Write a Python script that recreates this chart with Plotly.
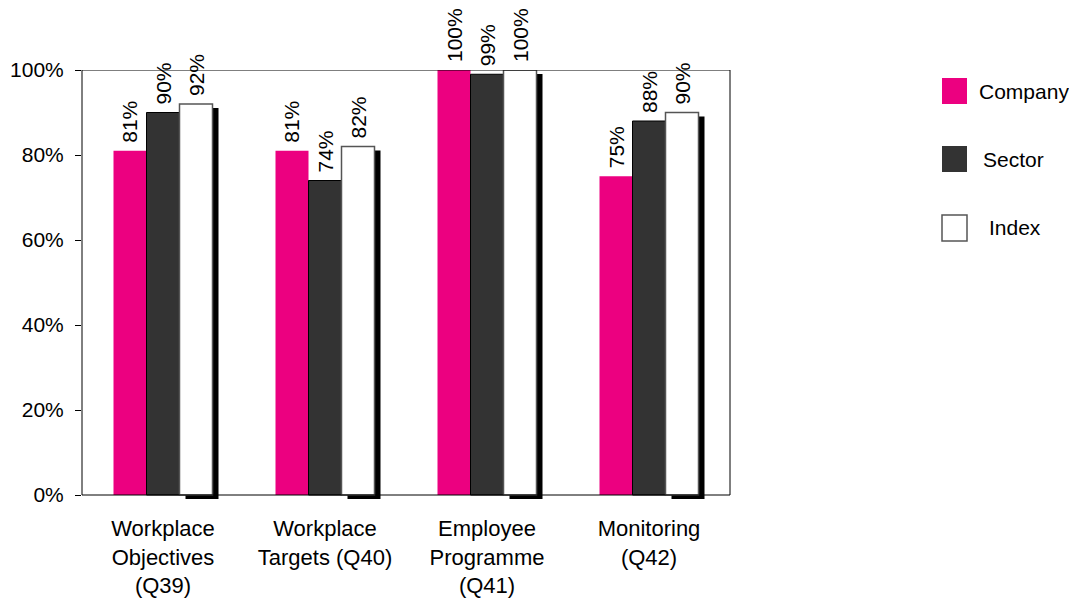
import plotly.graph_objects as go

# Survey scores per question, in percent
categories = [
    "Workplace<br>Objectives<br>(Q39)",
    "Workplace<br>Targets (Q40)",
    "Employee<br>Programme<br>(Q41)",
    "Monitoring<br>(Q42)",
]
company = [81, 81, 100, 75]
sector = [90, 74, 99, 88]
index_scores = [92, 82, 100, 90]
series_names = ["Company", "Sector", "Index"]
y_ticks = [0, 20, 40, 60, 80, 100]

PINK = "#EC0080"
DARK = "#333333"
FONT = "Liberation Sans, Arial, sans-serif"
FS = 21

W, H = 1069, 599
L, R, T, B = 82, 730, 70, 499          # plot area in pixels
ZERO_PX = 495                            # pixel row of 0%
px_per_unit = (ZERO_PX - T) / 100.0
y_min = -(B - ZERO_PX) / px_per_unit     # leaves room for the shadow under the axis

cat_px = (R - L) / len(categories)
BAR_PX = 33
bw = BAR_PX / cat_px                     # bar width in category units
shadow_dx = 6 / cat_px
shadow_dy = 4 / px_per_unit

fig = go.Figure()

# drop shadow behind the Index bars
fig.add_trace(go.Bar(
    x=categories, y=index_scores, base=-shadow_dy,
    width=bw, offset=bw / 2 + shadow_dx,
    marker=dict(color="#000000", line=dict(width=0)),
    hoverinfo="skip", showlegend=False, cliponaxis=False,
))
series = [
    (series_names[0], company, -1.5, dict(color=PINK, line=dict(width=0))),
    (series_names[1], sector, -0.5, dict(color=DARK, line=dict(color="#000000", width=1))),
    (series_names[2], index_scores, 0.5,
     dict(color="#FFFFFF", line=dict(color="#555555", width=1.5))),
]

annotations = []
for name, vals, off, marker in series:
    fig.add_trace(go.Bar(
        x=categories, y=vals, name=name,
        width=bw, offset=off * bw, marker=marker, cliponaxis=False,
    ))
    # rotated value labels sitting just above each bar
    for cat, v in zip(categories, vals):
        annotations.append(dict(
            x=cat, y=v, xref="x", yref="y",
            text=f"{v}%", textangle=-90, showarrow=False,
            xanchor="center", yanchor="bottom",
            xshift=(off + 0.5) * BAR_PX, yshift=6,
            font=dict(family=FONT, size=FS, color="#000000"),
        ))

shapes = [
    # frame around the plot from 0% to 100%
    dict(type="rect", xref="paper", yref="y", x0=0, x1=1, y0=0, y1=100,
         line=dict(color="#000000", width=1), fillcolor="rgba(0,0,0,0)", layer="above"),
]

# legend drawn as swatches with labels
legend_rows = [
    (PINK, PINK, 0, 91, 977),
    (DARK, DARK, 0, 159, 981),
    ("#FFFFFF", "#555555", 1.5, 228, 987),
]
for name, (fill, edge, lw, cy, tx) in zip(series_names, legend_rows):
    shapes.append(dict(
        type="rect", xref="paper", yref="paper",
        x0=(942 - L) / (R - L), x1=(967 - L) / (R - L),
        y0=(B - (cy + 13)) / (B - T), y1=(B - (cy - 13)) / (B - T),
        fillcolor=fill, line=dict(color=edge, width=lw), layer="above",
    ))
    annotations.append(dict(
        text=name, xref="paper", yref="paper",
        x=(tx - L) / (R - L), y=(B - cy) / (B - T),
        xanchor="left", yanchor="middle", showarrow=False,
        font=dict(family=FONT, size=FS, color="#000000"),
    ))

fig.update_layout(
    width=W, height=H,
    margin=dict(l=L, r=W - R, t=T, b=H - B, pad=0, autoexpand=False),
    paper_bgcolor="#FFFFFF", plot_bgcolor="#FFFFFF",
    barmode="overlay",
    showlegend=False,
    font=dict(family=FONT, size=FS, color="#000000"),
    shapes=shapes,
    annotations=annotations,
    xaxis=dict(
        type="category", range=[-0.5, len(categories) - 0.5],
        showgrid=False, zeroline=False, showline=False, automargin=False,
        ticks="", ticklabelstandoff=14,
        tickfont=dict(family=FONT, size=22, color="#000000"),
    ),
    yaxis=dict(
        range=[y_min, 100], tickvals=y_ticks, ticktext=[f"{v}%" for v in y_ticks],
        showgrid=False, zeroline=False, showline=False, automargin=False,
        ticks="outside", ticklen=6, tickcolor="#000000", tickwidth=1,
        ticklabelstandoff=7,
        tickfont=dict(family=FONT, size=FS, color="#000000"),
    ),
)

fig.write_html("out.html")
